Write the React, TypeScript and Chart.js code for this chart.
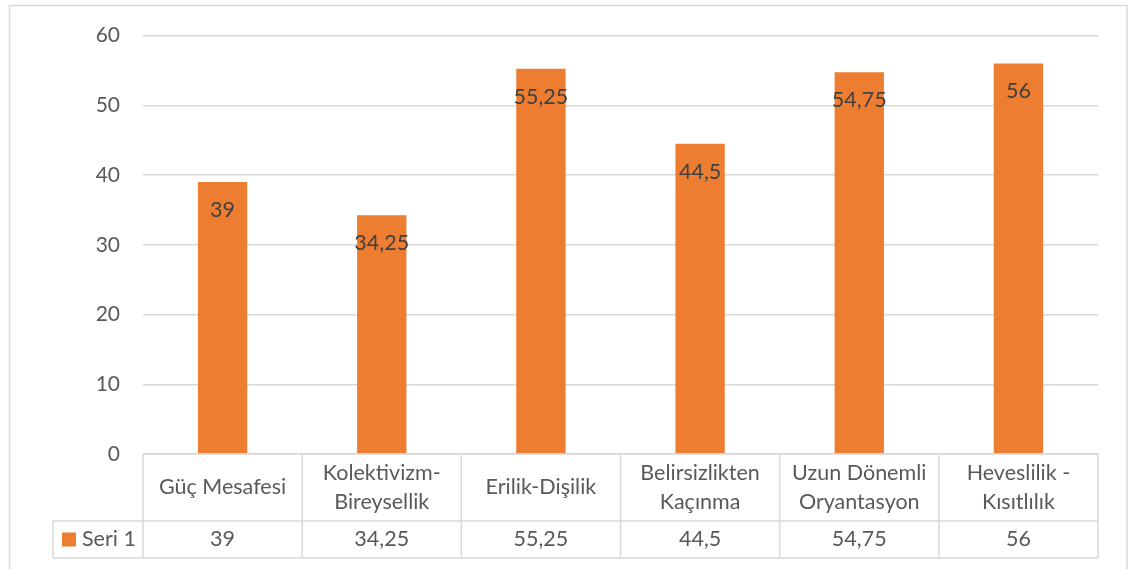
import React, { useEffect, useRef } from "react";
import { Chart, registerables } from "chart.js";

Chart.register(...registerables);

const categories: string[][] = [
  ["Güç Mesafesi"],
  ["Kolektivizm-", "Bireysellik"],
  ["Erilik-Dişilik"],
  ["Belirsizlikten", "Kaçınma"],
  ["Uzun Dönemli", "Oryantasyon"],
  ["Heveslilik -", "Kısıtlılık"],
];
const seriesName = "Seri 1";
const values: number[] = [39, 34.25, 55.25, 44.5, 54.75, 56];
const yTicks: number[] = [0, 10, 20, 30, 40, 50, 60];

const FONT = "Lato, 'Open Sans', sans-serif";
const BAR_COLOR = "#ED7D31";
const LINE_COLOR = "#d9d9d9";
const TEXT_COLOR = "#595959";
const LABEL_COLOR = "#404040";

const fmt = (v: number) => String(v).replace(".", ",");

const tablePlugin = {
  id: "tablePlugin",
  afterDraw(chart: any) {
    const ctx: CanvasRenderingContext2D = chart.ctx;
    const x = chart.scales.x;
    const area = chart.chartArea;
    const n = categories.length;
    const cw = (area.right - area.left) / n;
    const top = area.bottom;
    const mid = top + 67;
    const bot = top + 104;
    const legendLeft = 53;

    ctx.save();
    ctx.strokeStyle = LINE_COLOR;
    ctx.lineWidth = 1.5;
    ctx.strokeRect(9.5, 5.5, 1117.5, 600);

    ctx.beginPath();
    ctx.moveTo(area.left, top);
    ctx.lineTo(area.right, top);
    ctx.moveTo(legendLeft, mid);
    ctx.lineTo(area.right, mid);
    ctx.moveTo(legendLeft, bot);
    ctx.lineTo(area.right, bot);
    ctx.moveTo(legendLeft, mid);
    ctx.lineTo(legendLeft, bot);
    for (let i = 0; i <= n; i++) {
      const px = area.left + i * cw;
      ctx.moveTo(px, top);
      ctx.lineTo(px, bot);
    }
    ctx.stroke();

    ctx.fillStyle = TEXT_COLOR;
    ctx.font = `21.5px ${FONT}`;
    ctx.textAlign = "center";
    ctx.textBaseline = "middle";
    const hc = (top + mid) / 2;
    const lh = 29;
    categories.forEach((lines, i) => {
      const cx = x.getPixelForValue(i);
      const start = hc - ((lines.length - 1) * lh) / 2;
      lines.forEach((ln, j) => ctx.fillText(ln, cx, start + j * lh));
    });
    const vc = (mid + bot) / 2;
    values.forEach((v, i) => {
      ctx.fillText(fmt(v), x.getPixelForValue(i), vc);
    });
    ctx.fillStyle = BAR_COLOR;
    ctx.fillRect(62, vc - 7, 14, 14);
    ctx.fillStyle = TEXT_COLOR;
    ctx.textAlign = "left";
    ctx.fillText(seriesName, 82, vc);

    const meta = chart.getDatasetMeta(0);
    ctx.fillStyle = LABEL_COLOR;
    ctx.textAlign = "center";
    meta.data.forEach((bar: any, i: number) => {
      ctx.fillText(fmt(values[i]), bar.x, bar.y + 28);
    });
    ctx.restore();
  },
};

export default function App() {
  const ref = useRef<HTMLCanvasElement>(null);
  useEffect(() => {
    if (!ref.current) return;
    const chart = new Chart(ref.current, {
      type: "bar",
      data: {
        labels: categories.map((c) => c.join(" ")),
        datasets: [
          {
            label: seriesName,
            data: values,
            backgroundColor: BAR_COLOR,
            barPercentage: 0.31,
            categoryPercentage: 1,
          },
        ],
      },
      options: {
        animation: false,
        responsive: false,
        maintainAspectRatio: false,
        layout: { padding: { top: 34, right: 30, bottom: 115, left: 0 } },
        plugins: { legend: { display: false }, tooltip: { enabled: false } },
        scales: {
          x: {
            ticks: { display: false },
            grid: { display: false },
            border: { display: false },
            afterFit: (s: any) => {
              s.height = 0;
            },
          },
          y: {
            min: 0,
            max: 60,
            afterBuildTicks: (s: any) => {
              s.ticks = yTicks.map((v) => ({ value: v }));
            },
            ticks: {
              color: TEXT_COLOR,
              font: { family: FONT, size: 21 },
              padding: 23,
            },
            grid: { color: LINE_COLOR, lineWidth: 1.5, drawTicks: false },
            border: { display: false },
            afterFit: (s: any) => {
              s.width = 143;
            },
          },
        },
      },
      plugins: [tablePlugin],
    });
    return () => chart.destroy();
  }, []);
  return (
    <div style={{ position: "fixed", left: 0, top: 0, width: 1128, height: 569, background: "#fff" }}>
      <canvas ref={ref} width={1128} height={569} style={{ display: "block" }} />
    </div>
  );
}
